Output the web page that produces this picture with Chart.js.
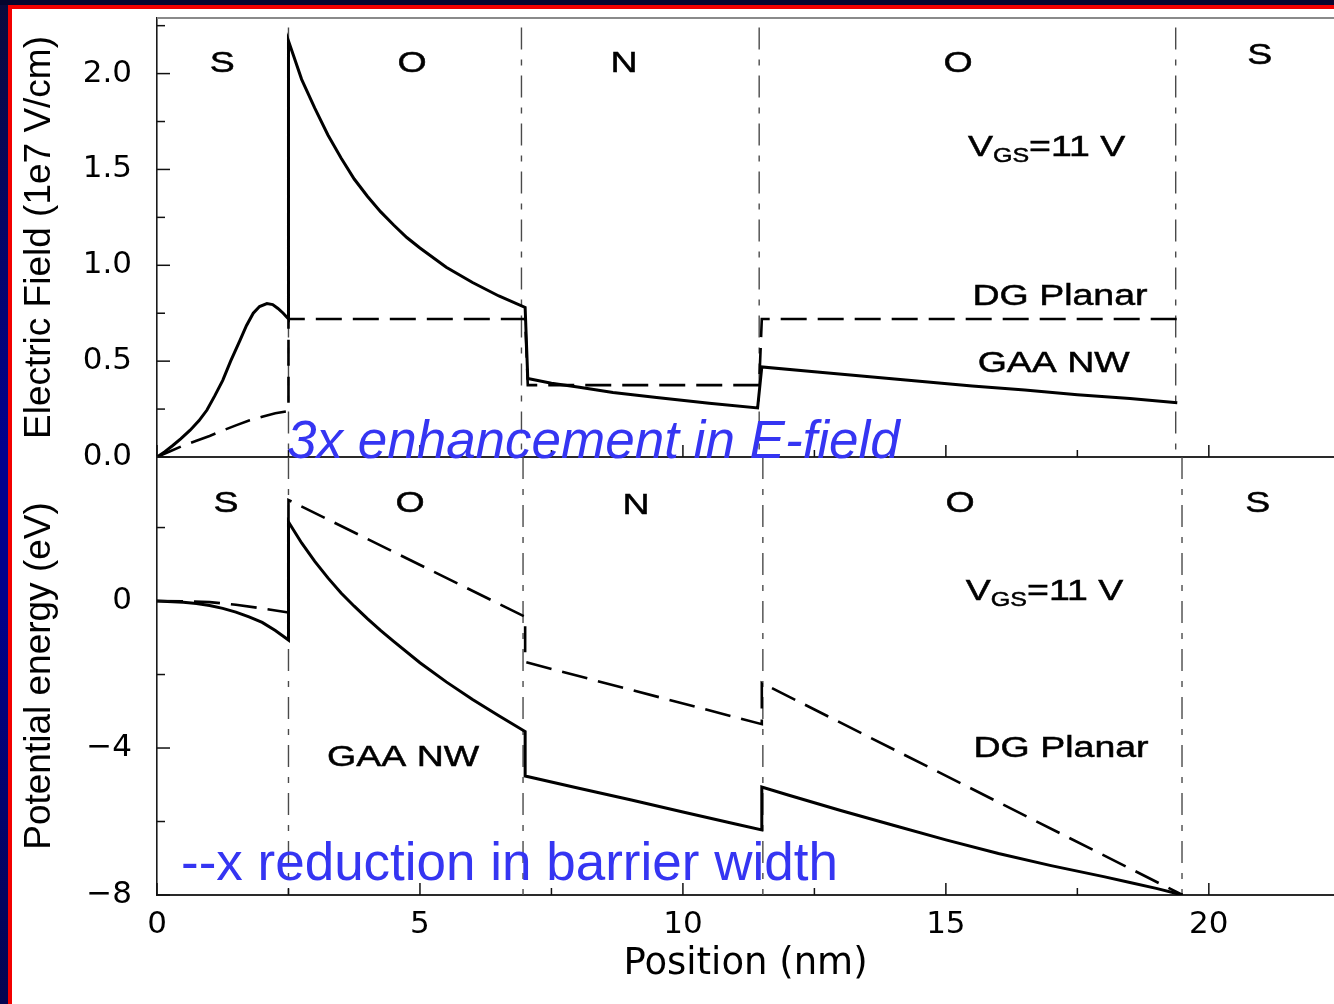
<!DOCTYPE html>
<html>
<head>
<meta charset="utf-8">
<script src="https://cdn.jsdelivr.net/npm/chart.js@4.4.0/dist/chart.umd.min.js"></script>
<style>
  html, body { margin: 0; padding: 0; background: #fff; overflow: hidden; }
  #page { position: relative; width: 1334px; height: 1004px; overflow: hidden; background: #fff; }
  #edgeLeft { position: absolute; left: 0; top: 0; width: 8px; height: 1004px;
    background: linear-gradient(#0a0a3c 0%, #00008e 45%, #00008a 60%, #040450 100%); }
  #edgeTop { position: absolute; left: 0; top: 0; width: 1334px; height: 5px; background: #05052e; }
  #redLeft { position: absolute; left: 8px; top: 5px; width: 4px; height: 999px; background: #f20000; }
  #redTop { position: absolute; left: 8px; top: 5px; width: 1326px; height: 4px; background: #f20000; }
  canvas { position: absolute; left: 0; }
  #c1 { top: 0; }
  #c2 { top: 440px; }
  .note { position: absolute; color: #3535f2; font-family: "Liberation Sans", Arial, sans-serif;
    font-size: 53px; line-height: 53px; white-space: nowrap; }
  #note1 { left: 287px; top: 413px; font-style: italic; }
  #note2 { left: 181px; top: 835px; }
</style>
</head>
<body>
<div id="page">
  <div id="edgeLeft"></div>
  <div id="edgeTop"></div>
  <div id="redLeft"></div>
  <div id="redTop"></div>
  <canvas id="c1" width="1334" height="480"></canvas>
  <canvas id="c2" width="1334" height="564"></canvas>
  <div class="note" id="note1">3x enhancement in E-field</div>
  <div class="note" id="note2">--x reduction in barrier width</div>
</div>
<script>
// ---------- data ----------
const xRange = [0, 22.38];
const xTickValues = [0, 5, 10, 15, 20];
const xMinorTicks = [2.5, 7.5, 12.5, 17.5];

// Top panel: electric field (1e7 V/cm)
const fieldRange = [0, 2.29];
const fieldTickValues = [0, 0.5, 1.0, 1.5, 2.0];
const fieldMinorTicks = [0.25, 0.75, 1.25, 1.75, 2.25];
const fieldGaaX = [0, 0.15, 0.3, 0.45, 0.63, 0.8, 0.95, 1.1, 1.25, 1.4, 1.58, 1.7, 1.83, 1.95, 2.09, 2.2, 2.3, 2.4, 2.5, 2.5,
  2.6, 2.75, 3.0, 3.25, 3.5, 3.75, 4.0, 4.25, 4.5, 4.75, 5.0, 5.5, 6.0, 6.5, 7.0, 7.05, 7.5, 8.0, 8.67, 9.5, 10.5, 11.42, 11.5,
  12.5, 13.5, 14.5, 15.5, 16.5, 17.5, 18.5, 19.4];
const fieldGaaY = [0, 0.028, 0.06, 0.095, 0.14, 0.19, 0.245, 0.32, 0.40, 0.50, 0.61, 0.685, 0.75, 0.785, 0.80, 0.795, 0.775, 0.75, 0.72, 2.17,
  2.09, 1.97, 1.82, 1.68, 1.56, 1.45, 1.36, 1.28, 1.21, 1.145, 1.09, 0.99, 0.91, 0.84, 0.78, 0.41, 0.385, 0.365, 0.337, 0.31, 0.28, 0.256, 0.47,
  0.445, 0.42, 0.395, 0.37, 0.35, 0.325, 0.305, 0.283];
const fieldDgX = [0, 0.25, 0.5, 0.75, 1.0, 1.25, 1.5, 1.75, 2.0, 2.25, 2.5, 2.5, 7.0, 7.05, 11.45, 11.5, 19.4];
const fieldDgY = [0, 0.03, 0.06, 0.085, 0.11, 0.138, 0.165, 0.19, 0.21, 0.228, 0.24, 0.72, 0.72, 0.375, 0.375, 0.72, 0.72];
const fieldBoundaries = [2.5, 6.93, 11.45, 19.37];
const fieldBoundaryTop = 2.24;

// Bottom panel: potential energy (eV)
const energyRange = [-8, 3.92];
const energyTickValues = [-8, -4, 0];
const energyMinorTicks = [-6, -2, 2];
const energyGaaX = [0, 0.5, 0.75, 1.0, 1.25, 1.5, 1.75, 2.0, 2.25, 2.5, 2.5, 2.75, 3.0, 3.25, 3.5, 3.75, 4.0, 4.25, 4.5, 5.0, 5.5, 6.0, 6.5, 7.0, 7.0,
  8.0, 9.0, 10.0, 11.0, 11.5, 11.5, 12.0, 13.0, 14.0, 15.0, 16.0, 17.0, 18.0, 18.5, 19.0, 19.5];
const energyGaaY = [0, -0.03, -0.07, -0.12, -0.2, -0.3, -0.43, -0.58, -0.8, -1.06, 2.15, 1.58, 1.08, 0.63, 0.22, -0.14, -0.48, -0.8, -1.1, -1.68, -2.2, -2.68, -3.12, -3.55, -4.76,
  -5.09, -5.41, -5.74, -6.07, -6.23, -5.06, -5.28, -5.7, -6.1, -6.5, -6.87, -7.2, -7.5, -7.66, -7.82, -8.0];
const energyDgX = [0, 0.5, 1.0, 1.5, 2.0, 2.5, 2.5, 7.0, 7.0, 11.5, 11.5, 19.5];
const energyDgY = [0, -0.005, -0.03, -0.1, -0.2, -0.31, 2.75, -0.43, -1.66, -3.35, -2.23, -8.0];
const energyBoundaries = [2.5, 6.96, 11.52, 19.49];

// Text annotations
const regionNames = ['S', 'O', 'N', 'O', 'S'];
const fieldRegionX = [1.24, 4.85, 8.88, 15.23, 20.97];
const fieldRegionBase = [2.01, 2.01, 2.01, 2.01, 2.05];
const energyRegionX = [1.31, 4.81, 9.11, 15.27, 20.93];
const energyRegionBase = [2.43, 2.43, 2.38, 2.43, 2.43];

// ---------- helpers ----------
const pts = (xs, ys) => xs.map((x, i) => ({ x: x, y: ys[i] }));
const FONT = '"Liberation Sans", Arial, sans-serif';
const TICKFONT = '"DejaVu Sans", "Liberation Sans", sans-serif';
const minusFmt = v => (v < 0 ? '\u2212' + Math.abs(v) : String(v));

function boundarySets(xs, y0, y1) {
  return xs.map(x => ({
    label: 'region boundary', data: [{ x: x, y: y1 }, { x: x, y: y0 }],
    showLine: true, borderColor: '#4a4a4a', borderWidth: 1.4,
    borderDash: [22, 10, 6, 10], pointRadius: 0, fill: false
  }));
}

function drawParts(ctx, parts, px, py, align, sx) {
  ctx.save();
  ctx.translate(px, py);
  ctx.scale(sx, 1);
  ctx.fillStyle = '#000';
  ctx.strokeStyle = '#000';
  ctx.lineWidth = 0.5;
  ctx.textBaseline = 'alphabetic';
  ctx.textAlign = 'left';
  let w = 0;
  parts.forEach(p => { ctx.font = p.size + 'px ' + FONT; p.w = ctx.measureText(p.t).width; w += p.w; });
  let cx = align === 'center' ? -w / 2 : 0;
  parts.forEach(p => {
    ctx.font = p.size + 'px ' + FONT;
    ctx.fillText(p.t, cx, p.dy || 0);
    ctx.strokeText(p.t, cx, p.dy || 0);
    cx += p.w;
  });
  ctx.restore();
}

function overlay(cfg) {
  return {
    id: 'overlay',
    afterDatasetsDraw(chart) {
      const { ctx, chartArea: a, scales: { x, y } } = chart;
      ctx.save();
      const seg = (x1, y1, x2, y2) => { ctx.beginPath(); ctx.moveTo(x1, y1); ctx.lineTo(x2, y2); ctx.stroke(); };
      ctx.strokeStyle = '#111';
      ctx.lineWidth = 1.5;
      cfg.yMajor.forEach(v => { const p = y.getPixelForValue(v); seg(a.left, p, a.left + 13, p); });
      cfg.yMinor.forEach(v => { const p = y.getPixelForValue(v); seg(a.left, p, a.left + 8, p); });
      cfg.xMajor.forEach(v => { const p = x.getPixelForValue(v); seg(p, a.bottom, p, a.bottom - 12); });
      cfg.xMinor.forEach(v => { const p = x.getPixelForValue(v); seg(p, a.bottom, p, a.bottom - 7); });
      if (cfg.topBorder) {
        ctx.strokeStyle = '#8a8a8a'; ctx.lineWidth = 2;
        seg(a.left, a.top, a.right, a.top);
      }
      ctx.restore();
      cfg.texts.forEach(t => {
        drawParts(ctx, t.parts, x.getPixelForValue(t.x), y.getPixelForValue(t.y), t.align, 1.25);
      });
    }
  };
}

function yAxis(range, ticks, fmt, title) {
  return {
    type: 'linear', min: range[0], max: range[1],
    grid: { display: true, drawOnChartArea: false, drawTicks: true, tickLength: 25, color: 'rgba(0,0,0,0)' },
    border: { display: true, color: '#1a1a1a', width: 1.6 },
    afterBuildTicks: s => { s.ticks = ticks.map(v => ({ value: v })); },
    ticks: { color: '#000', padding: 0, font: { family: TICKFONT, size: 31, lineHeight: 1 }, callback: fmt },
    title: { display: true, text: title, color: '#000', font: { family: FONT, size: 37 }, padding: { top: 6, bottom: 0 } },
    afterFit: s => { s.width = 145; }
  };
}

const common = {
  responsive: false, animation: false, devicePixelRatio: 1,
  plugins: { legend: { display: false }, tooltip: { enabled: false } }
};

// ---------- top chart ----------
const regionTexts = (xs, bs) => regionNames.map((n, i) => ({ x: xs[i], y: bs[i], align: 'center', parts: [{ t: n, size: 30 }] }));
const vgs = (x, y) => ({ x: x, y: y, align: 'left', parts: [{ t: 'V', size: 30 }, { t: 'GS', size: 20, dy: 6 }, { t: '=11 V', size: 30 }] });

new Chart(document.getElementById('c1'), {
  type: 'scatter',
  data: {
    datasets: [
      { label: 'GAA NW', data: pts(fieldGaaX, fieldGaaY), showLine: true, borderColor: '#000', borderWidth: 3, pointRadius: 0, fill: false },
      { label: 'DG Planar', data: pts(fieldDgX, fieldDgY), showLine: true, borderColor: '#000', borderWidth: 2.6, borderDash: [26, 11], pointRadius: 0, fill: false }
    ].concat(boundarySets(fieldBoundaries, 0, fieldBoundaryTop))
  },
  options: Object.assign({}, common, {
    layout: { padding: { left: 12, top: 18, right: 0, bottom: 0 } },
    scales: {
      x: {
        type: 'linear', min: xRange[0], max: xRange[1],
        afterBuildTicks: s => { s.ticks = xTickValues.map(v => ({ value: v })); },
        grid: { display: false, drawTicks: false },
        border: { display: true, color: '#2a2a2a', width: 2 },
        ticks: { display: false },
        afterFit: s => { s.height = 23; }
      },
      y: yAxis(fieldRange, fieldTickValues, v => v.toFixed(1), 'Electric Field (1e7 V/cm)')
    }
  }),
  plugins: [overlay({
    yMajor: fieldTickValues, yMinor: fieldMinorTicks, xMajor: xTickValues, xMinor: xMinorTicks, topBorder: true,
    texts: regionTexts(fieldRegionX, fieldRegionBase).concat([
      vgs(15.42, 1.57),
      { x: 17.17, y: 0.794, align: 'center', parts: [{ t: 'DG Planar', size: 30 }] },
      { x: 17.05, y: 0.444, align: 'center', parts: [{ t: 'GAA NW', size: 30 }] }
    ])
  })]
});

// ---------- bottom chart ----------
new Chart(document.getElementById('c2'), {
  type: 'scatter',
  data: {
    datasets: [
      { label: 'GAA NW', data: pts(energyGaaX, energyGaaY), showLine: true, borderColor: '#000', borderWidth: 3, pointRadius: 0, fill: false },
      { label: 'DG Planar', data: pts(energyDgX, energyDgY), showLine: true, borderColor: '#000', borderWidth: 2.6, borderDash: [26, 11], pointRadius: 0, fill: false }
    ].concat(boundarySets(energyBoundaries, energyRange[0], energyRange[1]))
  },
  options: Object.assign({}, common, {
    layout: { padding: { left: 12, top: 17, right: 0, bottom: 0 } },
    scales: {
      x: {
        type: 'linear', min: xRange[0], max: xRange[1],
        afterBuildTicks: s => { s.ticks = xTickValues.map(v => ({ value: v })); },
        grid: { display: false, drawTicks: false },
        border: { display: true, color: '#2a2a2a', width: 2 },
        ticks: { color: '#000', padding: 14, maxRotation: 0, font: { family: TICKFONT, size: 31, lineHeight: 1 } },
        title: { display: true, text: 'Position (nm)', color: '#000', font: { family: TICKFONT, size: 37 }, padding: { top: 0, bottom: 17 } },
        afterFit: s => { s.height = 109; }
      },
      y: yAxis(energyRange, energyTickValues, minusFmt, 'Potential energy (eV)')
    }
  }),
  plugins: [overlay({
    yMajor: energyTickValues, yMinor: energyMinorTicks, xMajor: xTickValues, xMinor: xMinorTicks, topBorder: false,
    texts: regionTexts(energyRegionX, energyRegionBase).concat([
      vgs(15.38, 0.03),
      { x: 4.68, y: -4.49, align: 'center', parts: [{ t: 'GAA NW', size: 30 }] },
      { x: 17.19, y: -4.24, align: 'center', parts: [{ t: 'DG Planar', size: 30 }] }
    ])
  })]
});
</script>
</body>
</html>
